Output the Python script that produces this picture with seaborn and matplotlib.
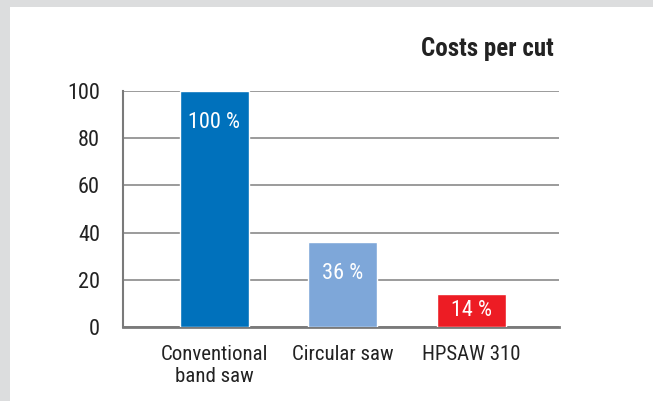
import matplotlib
matplotlib.use("Agg")
import matplotlib.pyplot as plt
import seaborn as sns
import pandas as pd

categories = ["Conventional\nband saw", "Circular saw", "HPSAW 310"]
values = [100, 36, 14]
value_labels = ["100 %", "36 %", "14 %"]
colors = ["#0071BC", "#7EA7D9", "#ED1C24"]
yticks = [0, 20, 40, 60, 80, 100]
title = "Costs per cut"

sns.set_theme(style="white")
plt.rcParams["font.family"] = ["Roboto Condensed", "DejaVu Sans"]

W, H = 653, 401
fig = plt.figure(figsize=(W / 100, H / 100), dpi=100, facecolor="#DCDDDE")
fig.patches.append(plt.Rectangle((10 / W, 0), 1 - 10 / W, 1 - 7 / H,
                                 transform=fig.transFigure, facecolor="white",
                                 edgecolor="none", zorder=-10))

ax = fig.add_axes([123 / W, 1 - 327 / H, (559 - 123) / W, (327 - 91) / H])
ax.set_zorder(2)
ax.set_facecolor("none")
df = pd.DataFrame({"cat": categories, "val": values})
sns.barplot(data=df, x="cat", y="val", hue="cat", palette=colors, legend=False,
            width=0.537, saturation=1, ax=ax, zorder=3)

ax.set_xlim(-0.712, 2.681)
ax.set_ylim(0, 100)
ax.set_yticks(yticks)
ax.yaxis.grid(True, color="#8a8a8a", linewidth=1.2, zorder=1)
ax.set_axisbelow(True)
ax.tick_params(axis="y", length=0, pad=16.5, labelsize=16, labelcolor="#222222")
ax.tick_params(axis="x", length=0, pad=13, labelsize=15, labelcolor="#222222")
for lab in ax.get_xticklabels():
    lab.set_linespacing(1.2)
ax.set_xlabel("")
ax.set_ylabel("")
for s in ["top", "right"]:
    ax.spines[s].set_visible(False)
ax.spines["left"].set_color("#7a7a7a")
ax.spines["left"].set_linewidth(1.5)
ax.spines["bottom"].set_color("#7a7a7a")
ax.spines["bottom"].set_linewidth(2)

offset = 13.5
for i, (v, lab) in enumerate(zip(values, value_labels)):
    y = v - offset if v > 2 * offset else v / 2
    ax.text(i, y, lab, ha="center", va="center", color="white", fontsize=16, zorder=5)

fig.text(554 / W, 1 - 49 / H, title, ha="right", va="center", fontsize=18,
         fontweight="bold", color="#222222", zorder=5)

fig.savefig("out.png", dpi=100, facecolor=fig.get_facecolor())
